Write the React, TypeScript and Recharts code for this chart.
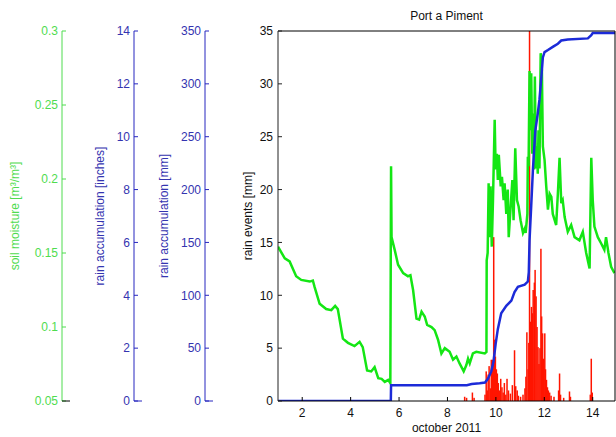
import { ComposedChart, Bar, Line, XAxis, YAxis } from "recharts"

const FONT = '"Liberation Sans", Arial, Helvetica, sans-serif'
const GREEN = "#14e614"
const GREEN_TEXT = "#4fdc4f"
const BLUE = "#1c2bd8"
const BLUE_AXIS = "#2626bf"
const BLUE_TEXT = "#3434b0"
const RED = "#ff1500"
const INK = "#111"

// soil moisture [m3/m3] over october 2011 (day of month)
const smDays = [
  1.0, 1.28, 1.48, 1.75, 1.96, 2.31, 2.44, 2.51, 2.72, 2.99, 3.2, 3.36, 3.47, 3.68, 3.89, 4.16,
  4.37, 4.5, 4.68, 4.85, 4.99, 5.14, 5.28, 5.41, 5.55, 5.64, 5.67, 5.69, 5.82, 5.96, 6.17, 6.37,
  6.47, 6.58, 6.72, 6.83, 6.93, 7.06, 7.16, 7.34, 7.47, 7.61, 7.75, 7.89, 8.09, 8.23, 8.37, 8.5,
  8.67, 8.78, 8.85, 8.92, 9.05, 9.19, 9.54, 9.61, 9.62, 9.66, 9.7, 9.74, 9.78, 9.83, 9.88, 9.95,
  9.99, 10.04, 10.08, 10.12, 10.2, 10.25, 10.32, 10.36, 10.43, 10.49, 10.53, 10.61, 10.68, 10.73,
  10.8, 10.87, 10.94, 11.02, 11.12, 11.19, 11.23, 11.3, 11.32, 11.35, 11.39, 11.42, 11.46, 11.5,
  11.55, 11.58, 11.61, 11.65, 11.69, 11.73, 11.76, 11.8, 11.85, 11.9, 11.94, 12.01, 12.08, 12.15,
  12.22, 12.29, 12.35, 12.49, 12.56, 12.63, 12.7, 12.76, 12.84, 12.97, 13.11, 13.25, 13.45, 13.59,
  13.73, 13.87, 13.94, 14.0, 14.07, 14.21, 14.35, 14.48, 14.55, 14.65, 14.76, 14.9,
]
const smValues = [
  0.1543, 0.1464, 0.1443, 0.1343, 0.1318, 0.1307, 0.1314, 0.1271, 0.1157, 0.1121, 0.1114, 0.1143,
  0.1121, 0.0921, 0.0893, 0.0871, 0.09, 0.0864, 0.0707, 0.07, 0.0729, 0.0654, 0.065, 0.0629,
  0.0643, 0.0621, 0.2086, 0.1607, 0.1521, 0.1421, 0.1364, 0.1343, 0.135, 0.125, 0.1057, 0.105,
  0.1104, 0.1071, 0.1014, 0.1, 0.0979, 0.0914, 0.0821, 0.0857, 0.0832, 0.0779, 0.08, 0.0754,
  0.07, 0.0743, 0.0786, 0.0754, 0.0821, 0.0832, 0.0821, 0.0832, 0.145, 0.15, 0.1971, 0.1607,
  0.195, 0.1543, 0.1857, 0.24, 0.2064, 0.2171, 0.1993, 0.2164, 0.195, 0.2014, 0.1857, 0.1971,
  0.1764, 0.1929, 0.1607, 0.1814, 0.1993, 0.1721, 0.2207, 0.1857, 0.1814, 0.1721, 0.1636, 0.1664,
  0.1636, 0.1764, 0.215, 0.2086, 0.2729, 0.2329, 0.2714, 0.2171, 0.2443, 0.2064, 0.2693, 0.2071,
  0.2221, 0.2036, 0.2329, 0.2071, 0.285, 0.2736, 0.2221, 0.2129, 0.195, 0.1793, 0.19, 0.1879,
  0.1764, 0.1689, 0.19, 0.2143, 0.1836, 0.1857, 0.1743, 0.1643, 0.1689, 0.1607, 0.1586, 0.1643,
  0.15, 0.1396, 0.2143, 0.1857, 0.1679, 0.1607, 0.1564, 0.1521, 0.1607, 0.15, 0.1407, 0.1364,
]

// rain accumulation [mm]
const accDays = [
  1.0, 5.66, 5.67, 8.8, 9.0, 9.33, 9.55, 9.67, 9.81, 9.9, 9.99, 10.08, 10.22, 10.43, 10.64, 10.77,
  10.91, 11.19, 11.32, 11.36, 11.39, 11.46, 11.53, 11.63, 11.73, 11.8, 11.87, 11.94, 12.01, 12.15,
  12.35, 12.56, 12.7, 12.97, 13.8, 13.94, 14.0, 14.92,
]
const accMm = [
  0, 0, 15, 15, 16, 16.7, 17.5, 21, 28, 37, 54, 68, 83, 90, 95, 103,
  108, 110, 113, 122, 152, 185, 219, 256, 272, 285, 304, 325, 330, 332,
  335, 338, 341, 342, 343, 346, 348, 348,
]

// rain events [mm]
const eventDays = [
  8.71, 8.79, 9.03, 9.1, 9.55, 9.6, 9.64, 9.68, 9.72, 9.77, 9.81, 9.85, 9.88, 9.91, 9.95, 9.98,
  10.02, 10.06, 10.1, 10.15, 10.2, 10.25, 10.3, 10.35, 10.41, 10.46, 10.52, 10.6, 10.68, 10.77,
  10.82, 10.88, 10.93, 11.02, 11.12, 11.2, 11.24, 11.28, 11.33, 11.36, 11.39, 11.43, 11.47, 11.51,
  11.54, 11.59, 11.62, 11.66, 11.7, 11.74, 11.78, 11.82, 11.86, 11.89, 11.93, 11.97, 12.02, 12.05,
  12.09, 12.13, 12.17, 12.22, 12.28, 12.4, 12.59, 12.63, 12.67, 12.8, 13.04, 13.08, 13.9, 13.94,
  13.98,
]
const eventMm = [
  0.4, 0.3, 0.8, 0.3, 0.6, 2.8, 1.0, 2.5, 3.3, 1.2, 3.9, 3.9, 2.0, 15.5, 5.8, 4.2,
  3.0, 2.6, 1.7, 1.0, 2.1, 1.3, 0.8, 1.7, 0.6, 2.1, 1.0, 0.7, 1.5, 4.8,
  1.4, 1.0, 0.5, 0.4, 0.6, 1.2, 2.3, 6.5, 3.0, 5.5, 35, 7.5, 8.9, 8.3,
  10.5, 11.2, 12.4, 9.9, 7.0, 5.1, 3.5, 5.0, 14.4, 8.0, 6.4, 4.0, 6.4, 3.0,
  2.0, 1.3, 1.0, 0.8, 0.5, 0.4, 1.0, 2.6, 0.6, 0.3, 0.9, 0.4, 0.6, 4.0,
  0.8,
]

const dayTicks = [2, 4, 6, 8, 10, 12, 14]
const eventTicks = [0, 5, 10, 15, 20, 25, 30, 35]
const mmTicks = [0, 50, 100, 150, 200, 250, 300, 350]
const inchTicks = [0, 2, 4, 6, 8, 10, 12, 14]
const smTicks = [0.05, 0.1, 0.15, 0.2, 0.25, 0.3]

type Row = { day: number; sm?: number; acc?: number; ev?: number }

function buildRows(): Row[] {
  const byDay = new Map<string, Row>()
  const put = (days: number[], vals: number[], key: "sm" | "acc" | "ev") => {
    days.forEach((d, i) => {
      const k = d.toFixed(3)
      const row = byDay.get(k) ?? { day: d }
      row[key] = vals[i]
      byDay.set(k, row)
    })
  }
  put(eventDays, eventMm, "ev")
  put(smDays, smValues, "sm")
  put(accDays, accMm, "acc")
  return [...byDay.values()].sort((a, b) => a.day - b.day)
}

const rows = buildRows()

// label + the short base line those side axes carry at their bottom
function SideTick(props: any) {
  const { x, y, payload, tc, bc, base } = props
  const axisX = x + 4
  return (
    <g>
      {payload.value === base && (
        <line x1={axisX} x2={axisX + 8} y1={y} y2={y} stroke={bc} strokeWidth={1} />
      )}
      <text x={x} y={y} dy="0.36em" textAnchor="end" fill={tc} fontSize={12}>
        {payload.value}
      </text>
    </g>
  )
}

// thin stem for every rain event
function Spike(props: any) {
  const { x, y, width, height } = props
  if (!Number.isFinite(x) || !Number.isFinite(y) || !Number.isFinite(height) || height <= 0) return null
  const cx = x + (width || 0) / 2
  return <rect x={cx - 0.75} y={y} width={1.5} height={height} fill={RED} />
}

const sideLabel = (value: string, offset: number, fill: string) => ({
  value,
  angle: -90,
  position: "insideLeft" as const,
  offset,
  fill,
  fontSize: 12,
  style: { textAnchor: "middle" },
})

export default function App() {
  return (
    <div
      style={{
        position: "absolute",
        left: 0,
        top: 0,
        width: 616,
        height: 437,
        background: "#fff",
        fontFamily: FONT,
      }}
    >
      <ComposedChart width={616} height={437} data={rows} margin={{ top: 0, right: 0, bottom: 0, left: 0 }}>
        <XAxis
          xAxisId="d"
          dataKey="day"
          type="number"
          domain={[1, 14.92]}
          ticks={dayTicks}
          allowDataOverflow
          height={36}
          stroke="#000"
          tickSize={-4}
          tickMargin={11}
          tick={{ fill: INK, fontSize: 12 }}
          label={{ value: "october 2011", position: "insideBottom", offset: 5, fill: INK, fontSize: 12 }}
        />
        <XAxis
          xAxisId="top"
          orientation="top"
          dataKey="day"
          type="number"
          domain={[1, 14.92]}
          ticks={dayTicks}
          allowDataOverflow
          height={31}
          stroke="#000"
          tickSize={-4}
          tick={false}
          label={{ value: "Port a Piment", position: "insideTop", offset: 11, fill: INK, fontSize: 12 }}
        />
        <YAxis
          yAxisId="a_ev"
          type="number"
          domain={[0, 35]}
          ticks={eventTicks}
          allowDataOverflow
          width={73}
          stroke="#222"
          tickSize={-4}
          tickMargin={9}
          tick={{ fill: INK, fontSize: 12 }}
          label={sideLabel("rain events [mm]", 43, INK)}
        />
        <YAxis
          yAxisId="b_mm"
          type="number"
          domain={[0, 350]}
          ticks={mmTicks}
          allowDataOverflow
          width={71}
          stroke={BLUE_AXIS}
          tickSize={-4}
          tickMargin={8}
          tick={<SideTick tc={BLUE_TEXT} bc={BLUE_AXIS} base={0} />}
          label={sideLabel("rain accumulation [mm]", 30, BLUE_TEXT)}
        />
        <YAxis
          yAxisId="c_in"
          type="number"
          domain={[0, 14]}
          ticks={inchTicks}
          allowDataOverflow
          width={72}
          stroke={BLUE_AXIS}
          tickSize={-4}
          tickMargin={8}
          tick={<SideTick tc={BLUE_TEXT} bc={BLUE_AXIS} base={0} />}
          label={sideLabel("rain accumulation [inches]", 38, BLUE_TEXT)}
        />
        <YAxis
          yAxisId="d_sm"
          type="number"
          domain={[0.05, 0.3]}
          ticks={smTicks}
          allowDataOverflow
          width={62}
          stroke={GREEN_TEXT}
          tickSize={-4}
          tickMargin={8}
          tick={<SideTick tc={GREEN_TEXT} bc="#000" base={0.05} />}
          label={sideLabel("soil moisture [m³/m³]", 15, GREEN_TEXT)}
        />
        <YAxis
          yAxisId="r"
          orientation="right"
          type="number"
          domain={[0, 35]}
          ticks={eventTicks}
          allowDataOverflow
          width={1}
          stroke="#000"
          tickSize={-4}
          tick={false}
        />
        <Bar xAxisId="d" yAxisId="a_ev" dataKey="ev" shape={<Spike />} isAnimationActive={false} />
        <Line
          xAxisId="d"
          yAxisId="d_sm"
          dataKey="sm"
          type="linear"
          stroke={GREEN}
          strokeWidth={2.5}
          dot={false}
          activeDot={false}
          connectNulls
          isAnimationActive={false}
        />
        <Line
          xAxisId="d"
          yAxisId="b_mm"
          dataKey="acc"
          type="linear"
          stroke={BLUE}
          strokeWidth={2.5}
          dot={false}
          activeDot={false}
          connectNulls
          isAnimationActive={false}
        />
      </ComposedChart>
    </div>
  )
}
